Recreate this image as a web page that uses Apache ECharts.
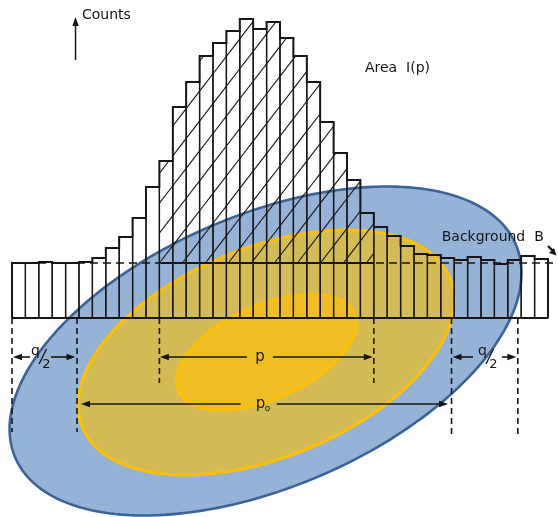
<!DOCTYPE html>
<html><head><meta charset="utf-8">
<script src="https://cdn.jsdelivr.net/npm/echarts@6/dist/echarts.min.js"></script>
<style>html,body{margin:0;padding:0;background:#fff}#c{width:558px;height:517px}</style>
</head><body><div id="c"></div>
<script>
// ---- data (channel units on x, counts on y; baseline = 0) ----
const channels = [0,1,2,3,4,5,6,7,8,9,10,11,12,13,14,15,16,17,18,19,20,21,22,23,24,25,26,27,28,29,30,31,32,33,34,35,36,37,38,39];
const counts = [55,55,56,55,55,56,60,70,81,100,131,157,211,236,262,275,287,299,289,296,280,262,236,196,165,138,105,91,82,72,64,63,60,58,61,58,54,58,62,59];
const backgroundLevel = 55;
const peakWindow = [11, 27];
const p0Window = [4.85, 32.8];
const qLeftWindow = [0, 4.85];
const qRightWindow = [32.8, 37.75];
const ellipseCenter = [[18.92, -33], [18.96, -34.5], [18.99, -34]];
const ellipseAxisU = [[19.10, 78], [14.03, 52.5], [6.72, 29]];
const ellipseAxisV = [[0, 144.8], [0, 110.7], [0, 50.2]];
const labels = { counts: 'Counts', area: 'Area  I(p)', background: 'Background  B', p: 'p', p0: 'p', p0sub: 'o', q: 'q', two: '2' };

// ---- styles ----
const INK = '#161616';
const FONT = 'DejaVu Sans';
const ellipseStyle = [
  { fill: '#95B3D7', stroke: '#3A6397', lineWidth: 2.6 },
  { fill: 'rgba(255,192,0,0.6)', stroke: '#FFC000', lineWidth: 3 },
  { fill: 'rgba(255,192,0,0.6)', stroke: '#FFC000', lineWidth: 2.6 }
];

const chart = echarts.init(document.getElementById('c'), null, { renderer: 'canvas' });

function head(tip, dx, dy, len, half) {
  const bx = tip[0] - dx * len, by = tip[1] - dy * len;
  return { type: 'polygon', shape: { points: [tip, [bx - dy * half, by + dx * half], [bx + dy * half, by - dx * half]] }, style: { fill: INK } };
}
function hArrow(x1, x2, y) { // arrowhead at x2
  const dir = x2 > x1 ? 1 : -1;
  return [
    { type: 'line', shape: { x1: x1, y1: y, x2: x2 - dir * 6, y2: y }, style: { stroke: INK, lineWidth: 1.6 } },
    head([x2, y], dir, 0, 9, 3.2)
  ];
}
function txt(s, x, y, size, align) {
  return { type: 'text', style: { text: s, x: x, y: y, fill: INK, font: size + 'px "' + FONT + '"',
    textAlign: align || 'center', textVerticalAlign: 'middle', align: align || 'center', verticalAlign: 'middle' } };
}
function dashV(api, ch, bottom) {
  const a = api.coord([ch, 0]), b = api.coord([ch, bottom]);
  return { type: 'line', shape: { x1: a[0], y1: a[1], x2: b[0], y2: b[1] }, style: { stroke: INK, lineWidth: 1.6, lineDash: [6, 4] } };
}

const option = {
  animation: false,
  grid: { left: 12, right: 10, top: 18, bottom: 0 },
  xAxis: { type: 'value', min: 0, max: 40, show: false },
  yAxis: { type: 'value', min: -199, max: 300, show: false },
  series: [
    { // ellipses
      type: 'custom', z: 1,
      data: ellipseCenter.map((c, i) => [c[0], c[1], i]),
      renderItem(params, api) {
        const i = api.value(2);
        const c = ellipseCenter[i], u = ellipseAxisU[i], v = ellipseAxisV[i];
        const pts = [];
        for (let k = 0; k < 200; k++) {
          const t = k / 200 * Math.PI * 2;
          pts.push(api.coord([c[0] + u[0] * Math.cos(t) + v[0] * Math.sin(t), c[1] + u[1] * Math.cos(t) + v[1] * Math.sin(t)]));
        }
        return { type: 'polygon', shape: { points: pts }, style: ellipseStyle[i] };
      }
    },
    { // histogram bins
      type: 'custom', z: 3,
      data: channels.map((ch, i) => [ch, counts[i]]),
      renderItem(params, api) {
        const ch = api.value(0), n = api.value(1);
        const a = api.coord([ch, 0]), b = api.coord([ch + 1, n]);
        return { type: 'rect', shape: { x: a[0], y: b[1], width: b[0] - a[0], height: a[1] - b[1] }, style: { fill: 'none', stroke: INK, lineWidth: 1.3 } };
      }
    },
    { // outline, baseline, background line, hatching
      type: 'custom', z: 4,
      data: [[0, 0]],
      renderItem(params, api) {
        const children = [];
        const pts = [api.coord([channels[0], 0])];
        channels.forEach((ch, i) => { pts.push(api.coord([ch, counts[i]])); pts.push(api.coord([ch + 1, counts[i]])); });
        pts.push(api.coord([channels.length, 0]));
        children.push({ type: 'polyline', shape: { points: pts }, style: { stroke: INK, lineWidth: 1.9, fill: 'none' } });
        const b0 = api.coord([0, 0]), b1 = api.coord([channels.length, 0]);
        children.push({ type: 'line', shape: { x1: b0[0], y1: b0[1], x2: b1[0], y2: b1[1] }, style: { stroke: INK, lineWidth: 1.9 } });
        const B0 = api.coord([0, backgroundLevel]), B1 = api.coord([40.75, backgroundLevel]);
        children.push({ type: 'line', shape: { x1: B0[0], y1: B0[1], x2: B1[0], y2: B1[1] }, style: { stroke: INK, lineWidth: 1.6, lineDash: [8, 5] } });
        const P0 = api.coord([peakWindow[0], backgroundLevel]), P1 = api.coord([peakWindow[1], backgroundLevel]);
        children.push({ type: 'line', shape: { x1: P0[0], y1: P0[1], x2: P1[0], y2: P1[1] }, style: { stroke: INK, lineWidth: 2.2 } });
        // hatching of I(p)
        const yB = P0[1], xs = P0[0], xe = P1[0];
        const s = 1.3, gap = 23;
        let minTop = Infinity;
        for (let j = peakWindow[0]; j < peakWindow[1]; j++) minTop = Math.min(minTop, api.coord([j, counts[j]])[1]);
        const start = xs - Math.ceil((yB - minTop) / s / gap) * gap;
        for (let xb = start; xb < xe; xb += gap) {
          for (let j = peakWindow[0]; j < peakWindow[1]; j++) {
            const xl = api.coord([j, 0])[0], xr = api.coord([j + 1, 0])[0];
            const t = api.coord([j, counts[j]])[1];
            const a = Math.max(xl, xb), b = Math.min(xr, xb + (yB - t) / s);
            if (b > a) children.push({ type: 'line', shape: { x1: a, y1: yB - s * (a - xb), x2: b, y2: yB - s * (b - xb) }, style: { stroke: INK, lineWidth: 1.1 } });
          }
        }
        return { type: 'group', children };
      }
    },
    { // annotations
      type: 'custom', z: 5,
      data: [[0, 0]],
      renderItem(params, api) {
        const ch = [];
        const row1 = api.coord([0, -39])[1], row2 = api.coord([0, -86])[1];
        // dashed verticals
        ch.push(dashV(api, qLeftWindow[0], -114));
        ch.push(dashV(api, p0Window[0], -114));
        ch.push(dashV(api, peakWindow[0], -65));
        ch.push(dashV(api, peakWindow[1], -65));
        ch.push(dashV(api, p0Window[1], -118));
        ch.push(dashV(api, qRightWindow[1], -118));
        // q/2 left and right
        [[qLeftWindow, 2.127, 10.5], [qRightWindow, 35.485, 14.5]].forEach(([w, c, g]) => {
          const cx = api.coord([c, 0])[0];
          const l = api.coord([w[0], 0])[0], r = api.coord([w[1], 0])[0];
          ch.push(...hArrow(cx - g, l + 1, row1));
          ch.push(...hArrow(cx + g, r - 1.5, row1));
          ch.push(txt(labels.q, cx - 5, row1 - 6, 14));
          ch.push(txt(labels.two, cx + 6, row1 + 8, 13));
          ch.push({ type: 'line', shape: { x1: cx + 6, y1: row1 - 8, x2: cx - 1.5, y2: row1 + 7 }, style: { stroke: INK, lineWidth: 1.4 } });
        });
        // p
        const pc = api.coord([18.5, 0])[0];
        ch.push(...hArrow(pc - 13, api.coord([peakWindow[0], 0])[0] + 0.5, row1));
        ch.push(...hArrow(pc + 13, api.coord([peakWindow[1], 0])[0] - 1, row1));
        ch.push(txt(labels.p, pc, row1, 15));
        // p0
        const p0c = api.coord([18.7, 0])[0];
        ch.push(...hArrow(p0c - 22, api.coord([p0Window[0], 0])[0] + 4, row2));
        ch.push(...hArrow(p0c + 14, api.coord([p0Window[1], 0])[0] - 3.5, row2));
        ch.push(txt(labels.p0, p0c - 2, row2, 15));
        ch.push(txt(labels.p0sub, p0c + 5, row2 + 5, 9));
        // Counts arrow
        const ca = api.coord([4.74, 258]), cb = api.coord([4.74, 301]);
        ch.push({ type: 'line', shape: { x1: ca[0], y1: ca[1], x2: cb[0], y2: cb[1] + 6 }, style: { stroke: INK, lineWidth: 1.5 } });
        ch.push(head(cb, 0, -1, 9, 3.2));
        const ct = api.coord([5.22, 303]);
        ch.push(txt(labels.counts, ct[0], ct[1], 14, 'left'));
        const at = api.coord([26.34, 250]);
        ch.push(txt(labels.area, at[0], at[1], 14, 'left'));
        const bt = api.coord([32.07, 81]);
        ch.push(txt(labels.background, bt[0], bt[1], 14, 'left'));
        // small pointer arrow at B
        const sp = api.coord([40.3, 67]);
        ch.push({ type: 'line', shape: { x1: sp[0] - 4, y1: sp[1] - 5, x2: sp[0] + 1, y2: sp[1] } , style: { stroke: INK, lineWidth: 2.4 } });
        ch.push(head([sp[0] + 4.5, sp[1] + 4.5], 0.707, 0.707, 7, 3.5));
        return { type: 'group', children: ch };
      }
    }
  ]
};
chart.setOption(option);
</script>
</body></html>
